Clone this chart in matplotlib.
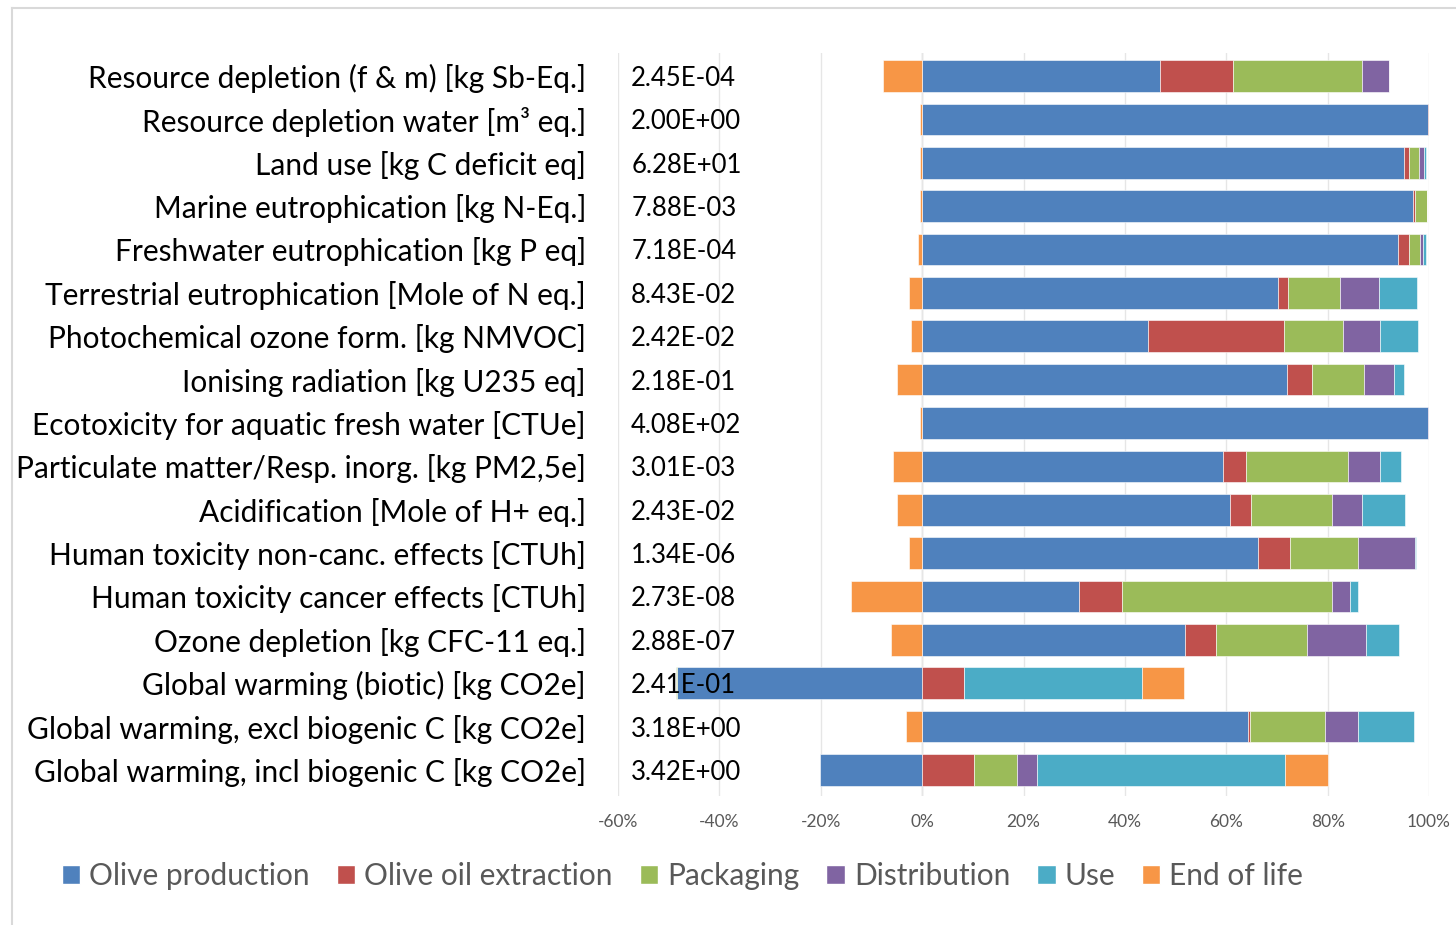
import numpy as np
import matplotlib.pyplot as plt
from matplotlib.lines import Line2D
from matplotlib.patches import Patch

plt.rcParams['font.family'] = ['Lato', 'DejaVu Sans']

categories = [
    'Resource depletion (f & m) [kg Sb-Eq.]',
    'Resource depletion water [m³ eq.]',
    'Land use [kg C deficit eq]',
    'Marine eutrophication [kg N-Eq.]',
    'Freshwater eutrophication [kg P eq]',
    'Terrestrial eutrophication [Mole of N eq.]',
    'Photochemical ozone form. [kg NMVOC]',
    'Ionising radiation [kg U235 eq]',
    'Ecotoxicity for aquatic fresh water [CTUe]',
    'Particulate matter/Resp. inorg. [kg PM2,5e]',
    'Acidification [Mole of H+ eq.]',
    'Human toxicity non-canc. effects [CTUh]',
    'Human toxicity cancer effects [CTUh]',
    'Ozone depletion [kg CFC-11 eq.]',
    'Global warming (biotic) [kg CO2e]',
    'Global warming, excl biogenic C [kg CO2e]',
    'Global warming, incl biogenic C [kg CO2e]',
]
totals = ['2.45E-04', '2.00E+00', '6.28E+01', '7.88E-03', '7.18E-04', '8.43E-02',
          '2.42E-02', '2.18E-01', '4.08E+02', '3.01E-03', '2.43E-02', '1.34E-06',
          '2.73E-08', '2.88E-07', '2.41E-01', '3.18E+00', '3.42E+00']

series_names = ['Olive production', 'Olive oil extraction', 'Packaging',
                'Distribution', 'Use', 'End of life']

# shares in %, one list per life cycle stage
olive_production = [47.0, 99.9, 95.0, 96.8, 93.8, 70.2, 44.5, 72.0, 99.8, 59.4,
                    60.7, 66.3, 30.9, 51.9, -48.3, 64.2, -20.1]
oil_extraction = [14.3, 0.1, 1.05, 0.45, 2.2, 2.0, 26.9, 5.0, 0.0, 4.4,
                  4.2, 6.2, 8.5, 6.1, 8.3, 0.4, 10.2]
packaging = [25.4, 0.0, 2.0, 2.3, 2.3, 10.3, 11.6, 10.1, 0.0, 20.3,
             15.9, 13.4, 41.4, 17.9, -0.2, 14.9, 8.5]
distribution = [5.4, 0.0, 1.0, 0.0, 0.45, 7.7, 7.4, 6.0, 0.2, 6.2,
                5.9, 11.3, 3.7, 11.7, 0.0, 6.5, 3.9]
use = [0.1, 0.0, 0.3, 0.15, 0.7, 7.4, 7.4, 2.0, 0.0, 4.1,
       8.5, 0.3, 1.5, 6.4, 35.1, 11.1, 49.0]
end_of_life = [-7.7, -0.4, -0.5, -0.5, -0.75, -2.5, -2.25, -4.9, -0.4, -5.8,
               -4.9, -2.5, -14.0, -6.1, 8.3, -3.1, 8.5]

colors = ['#4F81BD', '#C0504D', '#9BBB59', '#8064A2', '#4BACC6', '#F79646']
xticks = [-60, -40, -20, 0, 20, 40, 60, 80, 100]

data = np.array([olive_production, oil_extraction, packaging,
                 distribution, use, end_of_life])
y = np.arange(len(categories))

fig = plt.figure(figsize=(14.56, 9.25), dpi=100)
ax = fig.add_axes([618/1456, 1-796/925, (1429-618)/1456, (796-53)/925])

# negatives stack leftwards from 0, positives rightwards (Excel style)
pos_left = np.zeros(len(categories))
neg_left = np.zeros(len(categories))
for vals, col, name in zip(data, colors, series_names):
    left = np.where(vals >= 0, pos_left, neg_left)
    ax.barh(y, vals, left=left, height=0.73, color=col, edgecolor='white',
            linewidth=0.4, label=name, zorder=2)
    pos_left += np.where(vals >= 0, vals, 0)
    neg_left += np.where(vals < 0, vals, 0)

for i, t in enumerate(totals):
    ax.text(-57.4, i, t, ha='left', va='center_baseline', fontsize=18.5,
            color='black', zorder=5)

ax.set_xlim(-60, 100)
ax.set_ylim(16.6, -0.53)
ax.set_xticks(xticks)
ax.set_xticklabels([f'{v}%' for v in xticks], fontsize=12.5, color='#595959')
ax.set_yticks(y)
ax.set_yticklabels(categories, fontsize=21.5, color='black', va='center_baseline')
ax.tick_params(axis='y', length=0, pad=23)
ax.tick_params(axis='x', length=0, pad=13)
ax.grid(axis='x', color='#E6E6E6', linewidth=1, zorder=0)
ax.axvline(0, color='#D9D9D9', linewidth=1, zorder=1)
for s in ax.spines.values():
    s.set_visible(False)

handles = [Patch(facecolor=c, edgecolor='white') for c in colors]
fig.legend(handles, series_names, loc='center left', bbox_to_anchor=(35/1456, 1-876/925),
           ncol=6, frameon=False, fontsize=21.5, labelcolor='#595959',
           handlelength=0.62, handleheight=0.62, handletextpad=0.3, columnspacing=0.9)

# chart border
fig.add_artist(Line2D([12/1456, 12/1456], [0, 1-8/925], color='#D9D9D9', lw=1.5))
fig.add_artist(Line2D([12/1456, 1], [1-8/925, 1-8/925], color='#D9D9D9', lw=1.5))

fig.savefig('out.png', dpi=100)
